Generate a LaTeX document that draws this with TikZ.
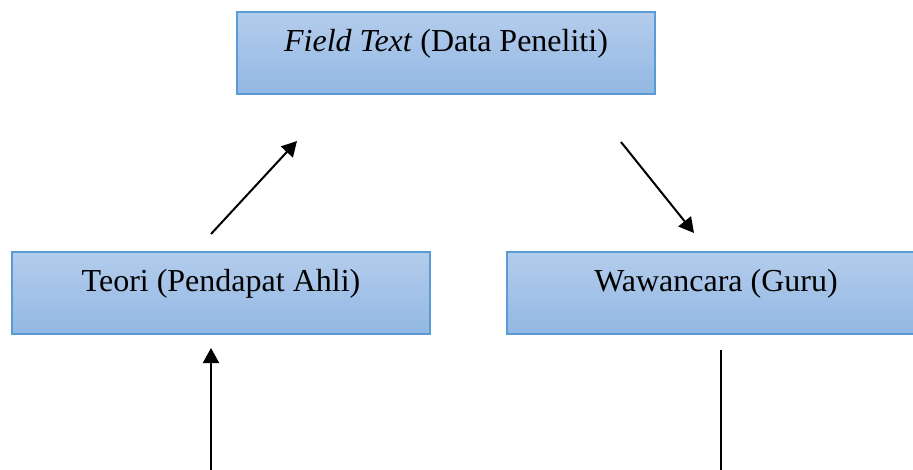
\documentclass[tikz,border=0pt]{standalone}
\usepackage{fontspec}
\setmainfont{Liberation Serif}
\usetikzlibrary{arrows.meta}
\definecolor{boxtop}{RGB}{180,204,236}
\definecolor{boxbot}{RGB}{146,184,227}
\definecolor{boxline}{RGB}{91,155,213}
\newcommand{\boxlabel}[1]{\raisebox{1pt}[0pt][0pt]{#1}}
\tikzset{
  flowbox/.style={draw=boxline, line width=1.5pt, top color=boxtop, bottom color=boxbot,
    minimum width=418pt, minimum height=82pt, inner sep=0pt, font=\fontsize{32}{36}\selectfont},
  conn/.style={line width=2pt, -{Triangle[length=15pt,width=16pt]}},
  plain/.style={line width=2pt}
}
\begin{document}
\begin{tikzpicture}[x=1pt,y=-1pt]
\clip (0,0) rectangle (913,470);
\fill[white] (0,0) rectangle (913,470);
\node[flowbox] (field) at (446,53) {\boxlabel{\textit{Field Text} (Data Peneliti)}};
\node[flowbox] (teori) at (221,293) {\boxlabel{Teori (Pendapat Ahli)}};
\node[flowbox] (wawan) at (716,293) {\boxlabel{Wawancara (Guru)}};
\coordinate (a1s) at (211,234);
\coordinate (a1e) at (297,141);
\coordinate (a2s) at (621,142);
\coordinate (a2e) at (694,233);
\coordinate (a3s) at (211,472);
\coordinate (a3e) at (211,348);
\coordinate (l4s) at (721,350);
\coordinate (l4e) at (721,472);
\draw[conn] (a1s) -- (a1e);
\draw[conn] (a2s) -- (a2e);
\draw[conn] (a3s) -- (a3e);
\draw[plain] (l4s) -- (l4e);
\end{tikzpicture}
\end{document}
